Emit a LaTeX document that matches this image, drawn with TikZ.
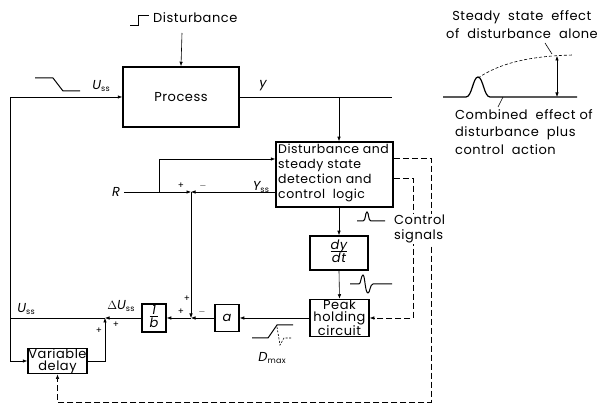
\documentclass[tikz,border=0pt]{standalone}
\usepackage{fontspec}
\setmainfont{Poppins}[LetterSpace=4]
\usetikzlibrary{arrows.meta}
\newcommand\ssub[1]{\raisebox{-2.5pt}{\fontsize{8}{8}\selectfont #1}}
\newcommand\fracbox[2]{{\itshape\begin{tabular}{@{}c@{}}#1\\[-3pt]\hline\rule{0pt}{11pt}#2\end{tabular}}}
\begin{document}
\begin{tikzpicture}[x=1pt,y=-1pt, font=\fontsize{13}{15}\selectfont,
  blk/.style={draw, line width=1.5pt, inner sep=0pt},
  ln/.style={line width=0.6pt},
  arr/.style={ln, -{Latex[length=4.5pt,width=3.5pt]}},
  dsh/.style={ln, dash pattern=on 6pt off 3pt},
  darr/.style={dsh, -{Latex[length=4.5pt,width=3.5pt]}},
  sym/.style={line width=1pt},
  lbl/.style={inner sep=0pt},
  pm/.style={inner sep=0pt, font=\fontsize{9}{9}\selectfont}]
\useasboundingbox (0,0) rectangle (606,406);

% blocks
\node[blk, minimum width=116pt, minimum height=60pt] (proc) at (181,97) {Process};
\node[blk, minimum width=117pt, minimum height=65pt] (dist) at (334.5,174.5) {};
\node[lbl, anchor=north west, align=left, font=\fontsize{12.5}{15}\selectfont] (disttxt) at (278,144)
  {Disturbance and\\steady state\\detection and\\control\ \ logic};
\node[blk, minimum width=58pt, minimum height=34pt] (ddt) at (339,253) {\fracbox{dy}{dt}};
\node[blk, minimum width=59pt, minimum height=37pt, align=center, font=\fontsize{13}{12}\selectfont] (peak) at (339.5,318) {Peak\\holding\\circuit};
\node[blk, minimum width=24pt, minimum height=27pt] (a) at (227,318) {\itshape a};
\node[blk, minimum width=24pt, minimum height=24pt] (ib) at (154,318) {\fracbox{1}{b}};
\node[blk, minimum width=59pt, minimum height=25pt, align=center, font=\fontsize{13}{12}\selectfont] (vd) at (57.5,361) {Variable\\delay};

% junctions and corners
\coordinate (j1) at (191,192);
\coordinate (j2) at (191,318);
\coordinate (j3) at (105,318);
\coordinate (ul) at (10,318);
\coordinate (dtop) at (182,33);
\coordinate (ytap) at (339,97);
\coordinate (yend) at (392,97);
\coordinate (rb) at (159,192);
\coordinate (c1) at (431,402);
\coordinate (c2) at (413,318);

% labels
\node[lbl, anchor=west] (dlab) at (153,18) {Disturbance};
\node[lbl] (uss1) at (101,86) {{\itshape U}\ssub{ss}};
\node[lbl] (ylab) at (263,86) {\itshape y};
\node[lbl] (R) at (116,192) {\itshape R};
\node[lbl] (yss) at (261,187) {{\itshape Y}\ssub{ss}};
\node[lbl] (uss2) at (26,309) {{\itshape U}\ssub{ss}};
\node[lbl] (duss) at (121,306) {$\Delta${\itshape U}\ssub{ss}};
\node[lbl] (dmax) at (272,358) {{\itshape D}\ssub{max}};

% signs
\node[pm] at (181,186) {+};
\node[pm] at (203,186) {$-$};
\node[pm] at (187,299) {+};
\node[pm] at (181,312) {+};
\node[pm] at (202,312) {$-$};
\node[pm] at (116,325) {+};
\node[pm] at (99,331) {+};

% connectors
\draw[arr] (dtop) -- (proc.north);
\draw[ln] (proc.east) -- (yend);
\draw[arr] (ytap) -- (ytap |- dist.north);
\draw[ln] (R.east) ++(4pt,0) -- (rb);
\draw[arr] (R.east) ++(4pt,0) -- (j1);
\draw[arr] (rb) |- (dist.west |- 0,159);
\draw[arr] (dist.west |- 0,192) -- (j1);
\draw[arr] (j1) -- (j2);
\draw[arr] (ddt.north |- dist.south) -- (ddt.north);
\draw[arr] (ddt.south) -- (peak.north);
\draw[arr] (peak.west) -- (a.east);
\draw[arr] (a.west) -- (j2);
\draw[arr] (j2) -- (ib.east);
\draw[arr] (ib.west) -- (j3);
\draw[ln] (j3) -- (ul);
\draw[arr] (ul) |- (proc.west);
\draw[arr] (ul) |- (vd.west);
\draw[arr] (vd.east) -| (j3);
\draw[darr] (dist.east |- 0,158) -| (c1) -| (vd.south);
\draw[darr] (dist.east |- 0,178) -| (c2) -- (peak.east);
\node[lbl, anchor=west, fill=white, inner sep=1pt, align=left] (ctrl) at (393,229) {Control\\signals};

% signal sketches
\draw[sym] (130,26) -- (138,26) -- (138,16) -- (149,16);
\draw[sym] (35,78) -- (53,78) -- (63,91) -- (80,91);
\draw[sym] (357,221) -- (363,221) .. controls (366,221) and (365,212) .. (367,212)
  .. controls (369,212) and (368,221) .. (371,221) -- (385,221);
\draw[sym] (350,284) -- (359,284) .. controls (361,284) and (361,275) .. (363,275)
  .. controls (365,275) and (365,293) .. (368,293) .. controls (370,293) and (370,284) .. (373,284) -- (392,284);
\draw[sym] (252,338) -- (268,338) -- (277,325) -- (293,325);
\draw[ln, dash pattern=on 2pt off 1.5pt] (277,327) -- (280,345) -- (284,338) -- (292,338);

% right-hand sketch
\draw[line width=1.2pt] (443,97) -- (466,97) .. controls (472,97) and (473,77) .. (478,77)
  .. controls (483,77) and (484,97) .. (490,97) -- (577,97);
\draw[ln, dash pattern=on 3pt off 2pt] (478,78) .. controls (500,63) and (530,56) .. (573,55);
\draw[ln, {Latex[length=4.5pt,width=3.5pt]}-{Latex[length=4.5pt,width=3.5pt]}] (557,56) -- (557,97);
\draw[ln] (545,43) -- (552,54);
\draw[ln] (503,97) -- (498,107);
\node[lbl, anchor=west, align=left, font=\fontsize{13}{18}\selectfont] (sse) at (446,25) {\ \,Steady\ \ state\ \ effect\\of\ \ disturbance\ \ alone};
\node[lbl, anchor=west, align=left, font=\fontsize{13}{17.5}\selectfont] (cmb) at (455,132) {Combined\ \ effect of\\disturbance\ \ plus\\control\ \ action};
\end{tikzpicture}
\end{document}
